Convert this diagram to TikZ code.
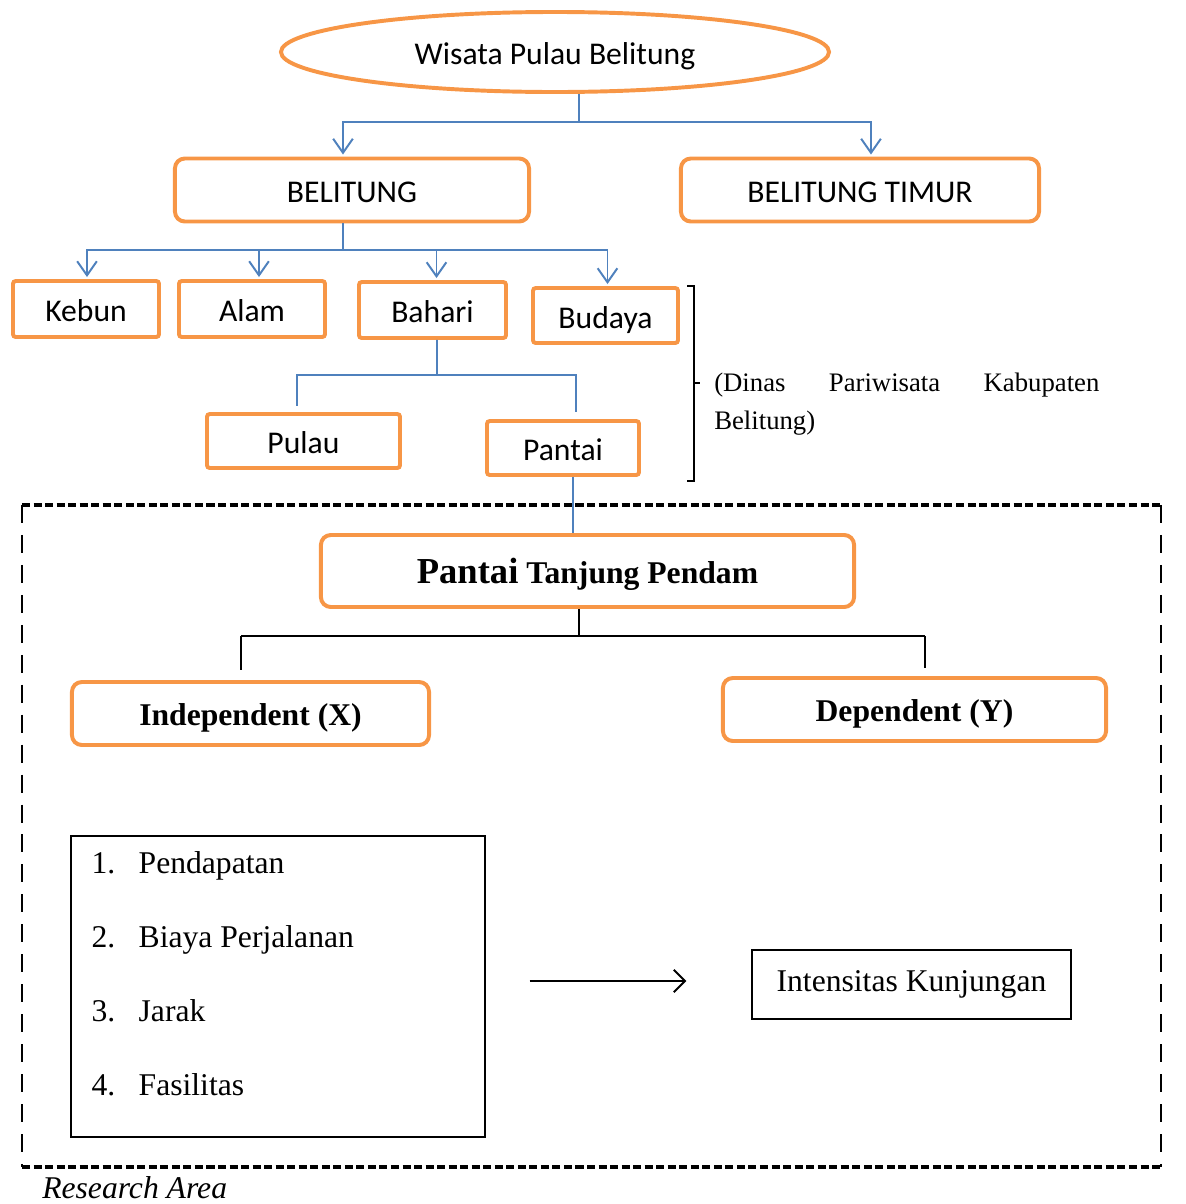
\documentclass[tikz,border=0pt]{standalone}
\usepackage{fontspec}
\setmainfont{Liberation Serif}
\newfontfamily\calibfont{Carlito}
\usetikzlibrary{shapes.geometric}
\usetikzlibrary{arrows.meta}
\usetikzlibrary{calc}
\definecolor{boxorange}{HTML}{F79646}
\definecolor{lineblue}{HTML}{4F81BD}
\tikzset{x=0.025cm, y=-0.025cm, % one unit is one pixel of the layout
orangebox/.style={ % region boxes
draw=boxorange,
line width=2.8pt,
rounded corners=7pt,
inner sep=0pt,
text height=19pt, % same baseline in every box
text depth=1pt,
font=\calibfont\fontsize{22.5}{27}\selectfont},
smallbox/.style={orangebox, rounded corners=2pt},
varbox/.style={orangebox, text depth=1.3pt, font=\bfseries\fontsize{22.5}{27}\selectfont},
plainbox/.style={draw, line width=0.8pt, inner sep=0pt, font=\fontsize{22.5}{27}\selectfont},
itemtext/.style={inner sep=0pt, anchor=base west, font=\fontsize{22.5}{27}\selectfont},
blueline/.style={draw=lineblue, line width=1.4pt},
bluearrow/.style={blueline, -{Straight Barb[length=10pt,width=14pt,line width=1.4pt]}},
blackline/.style={draw=black, line width=1pt},
blackarrow/.style={draw=black, line width=1.4pt, -{Straight Barb[length=8pt,width=16pt,line width=1.4pt]}},
bracket/.style={draw=black, line width=1pt},
topdash/.style={draw=black, line width=2.8pt, dash pattern=on 5.7pt off 2.5pt},
sidedash/.style={draw=black, line width=2pt, dash pattern=on 12.8pt off 8.5pt}}

\begin{document}
\begin{tikzpicture}
\useasboundingbox (0,0) rectangle (1185,1204);
% upper tree
\node[orangebox, ellipse, minimum width=13.7cm, minimum height=2cm] (ell) at (555,52) {Wisata Pulau Belitung};
\node[orangebox, minimum width=8.85cm, minimum height=1.575cm] (bel) at (352,190) {BELITUNG};
\node[orangebox, minimum width=8.95cm, minimum height=1.575cm] (timur) at (860,190) {BELITUNG TIMUR};
\node[smallbox, minimum width=3.65cm, minimum height=1.4cm] (kebun) at (86,309) {Kebun};
\node[smallbox, minimum width=3.65cm, minimum height=1.4cm] (alam) at (252,309) {Alam};
\node[smallbox, minimum width=3.675cm, minimum height=1.4cm] (bahari) at (432.5,310) {Bahari};
\node[smallbox, minimum width=3.625cm, minimum height=1.375cm] (budaya) at (605.5,315.5) {Budaya};
\node[smallbox, minimum width=4.825cm, minimum height=1.35cm] (pulau) at (303.5,441) {Pulau};
\node[smallbox, minimum width=3.8cm, minimum height=1.35cm] (pantai) at (563,448) {Pantai};

\coordinate (s1) at (579,122);
\coordinate (s2) at (343,250);
\coordinate (s3) at (437,375);
\draw[blueline] ($(ell.south)+(24,0)$) -- (s1);
\draw[bluearrow] (s1) -| ($(bel.north)+(-9,-2)$);
\draw[bluearrow] (s1) -| ($(timur.north)+(11,-2)$);
\draw[blueline] ($(bel.south)+(-9,0)$) -- (s2);
\draw[bluearrow] (s2) -| ($(kebun.north)+(1,-2)$);
\draw[bluearrow] (s2) -| ($(alam.north)+(7,-2)$);
\draw[bluearrow] (s2) -| ($(bahari.north)+(4,-2)$);
\draw[bluearrow] (s2) -| ($(budaya.north)+(2,-2)$);
\draw[blueline] ($(bahari.south)+(4.5,0)$) -- (s3);
\draw[blueline] (s3) -| ($(pulau.north)+(-6.5,-6)$);
\draw[blueline] (s3) -| ($(pantai.north)+(13,-7)$);

% source bracket
\coordinate (brtop) at (694,286);
\coordinate (brbot) at (694,481);
\coordinate (brmid) at (694,383);
\draw[bracket] ($(brtop)+(-7,0)$) -- (brtop) -- (brbot) -- ($(brbot)+(-7,0)$);
\draw[bracket] (brmid) -- ++(6,0);
\node[inner sep=0pt, anchor=north west, text width=9.625cm, align=left,
font=\fontsize{19}{26.5}\selectfont] (src) at (714,373)
{(Dinas\hfill Pariwisata\hfill Kabupaten\\Belitung)};

% research area
\coordinate (fr1) at (22,505);
\coordinate (fr2) at (1161,1167);
\draw[topdash] (fr1) -- (fr1 -| fr2);
\draw[topdash] (fr1 |- fr2) -- (fr2);
\draw[sidedash] (fr1) -- (fr1 |- fr2);
\draw[sidedash] (fr1 -| fr2) -- (fr2);
\node[inner sep=0pt, anchor=base west, font=\itshape\fontsize{22.5}{27}\selectfont] (area) at (42,1198) {Research Area};

\node[varbox, minimum width=13.325cm, minimum height=1.8cm] (ptp) at (587.5,571)
{{\fontsize{26}{30}\selectfont Pantai} Tanjung Pendam};
\node[varbox, minimum width=8.925cm, minimum height=1.575cm] (indep) at (250.5,713.5) {Independent (X)};
\node[varbox, minimum width=9.575cm, minimum height=1.575cm] (dep) at (914.5,709.5) {Dependent (Y)};
\draw[blueline] ($(pantai.south)+(10,0)$) -- ($(ptp.north)+(-14.5,0)$);

\coordinate (s4) at (579,636);
\coordinate (s5) at (241,636);
\coordinate (s6) at (925,636);
\draw[blackline] ($(ptp.south)+(-8.5,0)$) -- (s4);
\draw[blackline, line width=2pt] (s5) -- (s6);
\draw[blackline] (s5) -- ($(s5 |- indep.north)+(0,-10)$);
\draw[blackline] (s6) -- ($(s6 |- dep.north)+(0,-8)$);

\node[plainbox, minimum width=10.35cm, minimum height=7.525cm] (list) at (278,986.5) {};
\foreach \n/\t/\yy in {1/Pendapatan/38, 2/Biaya Perjalanan/112, 3/Jarak/186, 4/Fasilitas/260} {
\node[itemtext] (num\n) at ($(list.north west)+(21,\yy)$) {\n.};
\node[itemtext] (item\n) at ($(list.north west)+(68,\yy)$) {\t};
}
\node[plainbox, minimum width=7.975cm, minimum height=1.725cm] (intens) at (911.5,984.5) {Intensitas Kunjungan};
\draw[blackarrow] ($(list.east)+(44,-5.5)$) -- ($(intens.west)+(-65,-3.5)$);
\end{tikzpicture}
\end{document}
